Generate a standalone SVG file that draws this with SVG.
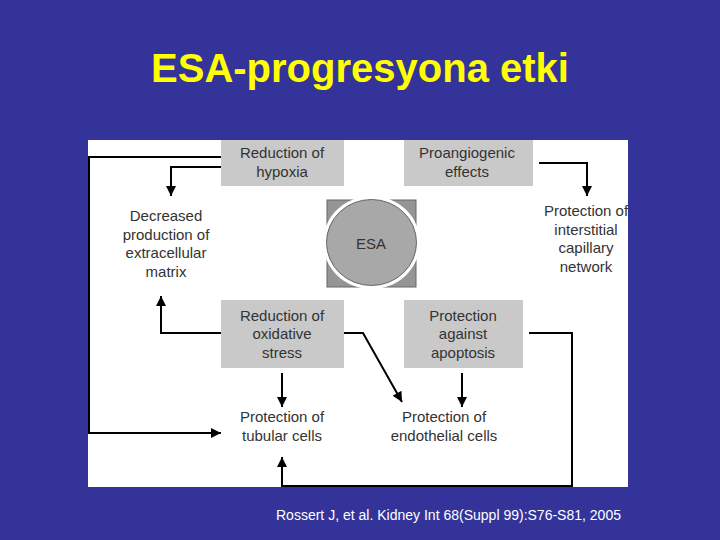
<svg xmlns="http://www.w3.org/2000/svg" width="720" height="540" viewBox="0 0 720 540">
<defs>
<style>
.t{font-family:"Liberation Sans",Arial,sans-serif;font-size:15px;fill:#333;text-anchor:middle}
.box{fill:#c9c9c9}
.c{stroke:#000;stroke-width:2;fill:none}
</style>
<marker id="ah" viewBox="0 0 10 10" refX="10" refY="5" markerWidth="5.5" markerHeight="5" orient="auto" markerUnits="strokeWidth">
<path d="M0,0 L10,5 L0,10 z" fill="#000"/>
</marker>
</defs>
<rect width="720" height="540" fill="#333399"/>
<text x="360" y="82" font-family="Liberation Sans,Arial,sans-serif" font-weight="bold" font-size="40" fill="#ffff00" text-anchor="middle">ESA-progresyona etki</text>
<rect x="88" y="140" width="540" height="347" fill="#fff"/>

<g id="connectors">
<polyline class="c" points="221,157 89,157 89,433 221,433" marker-end="url(#ah)"/>
<polyline class="c" points="221,167 171,167 171,196" marker-end="url(#ah)"/>
<polyline class="c" points="221,333 161,333 161,296" marker-end="url(#ah)"/>
<line class="c" x1="282" y1="373" x2="282" y2="407" marker-end="url(#ah)"/>
<polyline class="c" points="344,333 363,333 402,402" marker-end="url(#ah)"/>
<line class="c" x1="462" y1="373" x2="462" y2="407" marker-end="url(#ah)"/>
<polyline class="c" points="529,333 572,333 572,486 282,486 282,457" marker-end="url(#ah)"/>
<polyline class="c" points="539,163 587,163 587,196" marker-end="url(#ah)"/>
</g>

<g id="hypoxia">
<rect class="box" x="221" y="140" width="123" height="46"/>
<text class="t" x="282" y="158">Reduction of</text>
<text class="t" x="282" y="177">hypoxia</text>
</g>
<g id="proangiogenic">
<rect class="box" x="404" y="140" width="129" height="46"/>
<text class="t" x="467" y="158">Proangiogenic</text>
<text class="t" x="467" y="177">effects</text>
</g>
<g id="esa">
<rect x="327" y="200" width="89" height="87" fill="#959595" stroke="#666" stroke-width="1"/>
<ellipse cx="371.5" cy="242.5" rx="48.5" ry="46.5" fill="#fff"/>
<ellipse cx="371.5" cy="242.5" rx="45" ry="43" fill="#a8a8a8" stroke="#666" stroke-width="1"/>
<text class="t" x="371" y="249">ESA</text>
</g>
<g id="matrix">
<text class="t" x="166" y="221">Decreased</text>
<text class="t" x="166" y="240">production of</text>
<text class="t" x="166" y="258">extracellular</text>
<text class="t" x="166" y="277">matrix</text>
</g>
<g id="capillary">
<text class="t" x="586" y="216">Protection of</text>
<text class="t" x="586" y="235">interstitial</text>
<text class="t" x="586" y="253">capillary</text>
<text class="t" x="586" y="272">network</text>
</g>
<g id="oxidative">
<rect class="box" x="221" y="300" width="123" height="68"/>
<text class="t" x="282" y="321">Reduction of</text>
<text class="t" x="282" y="339">oxidative</text>
<text class="t" x="282" y="358">stress</text>
</g>
<g id="apoptosis">
<rect class="box" x="404" y="300" width="119" height="68"/>
<text class="t" x="463" y="321">Protection</text>
<text class="t" x="463" y="339">against</text>
<text class="t" x="463" y="358">apoptosis</text>
</g>
<g id="tubular">
<text class="t" x="282" y="422">Protection of</text>
<text class="t" x="282" y="441">tubular cells</text>
</g>
<g id="endothelial">
<text class="t" x="444" y="422">Protection of</text>
<text class="t" x="444" y="441">endothelial cells</text>
</g>
<text x="276" y="520" font-family="Liberation Sans,Arial,sans-serif" font-size="14" fill="#fff" textLength="345" lengthAdjust="spacingAndGlyphs">Rossert J, et al. Kidney Int 68(Suppl 99):S76-S81, 2005</text>
</svg>
